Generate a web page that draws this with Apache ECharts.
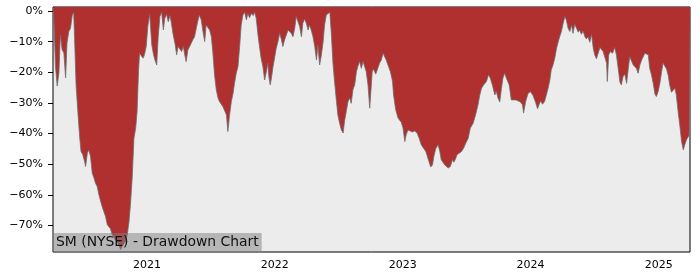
<!DOCTYPE html>
<html>
<head>
<meta charset="utf-8">
<script src="https://cdn.jsdelivr.net/npm/echarts@6/dist/echarts.min.js"></script>
<style>
html,body{margin:0;padding:0;background:#fff;}
#chart{width:700px;height:280px;}
</style>
</head>
<body>
<div id="chart"></div>
<script>
var titleText = 'SM (NYSE) - Drawdown Chart';
var yTickValues = [0, -10, -20, -30, -40, -50, -60, -70];
var xTickLabels = ['2021', '2022', '2023', '2024', '2025'];
var xRange = ['2020-04-08', '2025-03-31'];
var dates = [
'2020-04-08','2020-04-10','2020-04-15','2020-04-20','2020-04-25','2020-04-29','2020-05-04','2020-05-09','2020-05-14','2020-05-18',
'2020-05-23','2020-05-28','2020-06-02','2020-06-06','2020-06-09','2020-06-13','2020-06-18','2020-06-23','2020-06-27','2020-07-02',
'2020-07-07','2020-07-10','2020-07-15','2020-07-19','2020-07-24','2020-07-29','2020-08-03','2020-08-07','2020-08-12','2020-08-17',
'2020-08-22','2020-08-26','2020-08-31','2020-09-05','2020-09-10','2020-09-14','2020-09-19','2020-09-24','2020-09-29','2020-10-04',
'2020-10-08','2020-10-13','2020-10-18','2020-10-23','2020-10-27','2020-11-01','2020-11-06','2020-11-11','2020-11-15','2020-11-20',
'2020-11-25','2020-11-30','2020-12-04','2020-12-08','2020-12-11','2020-12-16','2020-12-21','2020-12-25','2020-12-30','2021-01-04',
'2021-01-09','2021-01-11','2021-01-15','2021-01-20','2021-01-24','2021-01-29','2021-02-02','2021-02-07','2021-02-12','2021-02-17',
'2021-02-21','2021-02-26','2021-03-03','2021-03-08','2021-03-12','2021-03-17','2021-03-22','2021-03-27','2021-03-31','2021-04-05',
'2021-04-10','2021-04-15','2021-04-19','2021-04-23','2021-04-28','2021-05-03','2021-05-08','2021-05-12','2021-05-17','2021-05-22',
'2021-05-27','2021-05-31','2021-06-05','2021-06-10','2021-06-15','2021-06-19','2021-06-24','2021-06-29','2021-07-04','2021-07-08',
'2021-07-13','2021-07-18','2021-07-23','2021-07-27','2021-08-01','2021-08-06','2021-08-11','2021-08-16','2021-08-20','2021-08-25',
'2021-08-30','2021-09-04','2021-09-08','2021-09-13','2021-09-18','2021-09-23','2021-09-27','2021-10-02','2021-10-07','2021-10-12',
'2021-10-16','2021-10-21','2021-10-26','2021-10-31','2021-11-04','2021-11-09','2021-11-14','2021-11-19','2021-11-23','2021-11-28',
'2021-12-03','2021-12-08','2021-12-12','2021-12-15','2021-12-19','2021-12-23','2021-12-27','2022-01-01','2022-01-05','2022-01-10',
'2022-01-15','2022-01-20','2022-01-24','2022-01-29','2022-02-03','2022-02-08','2022-02-12','2022-02-17','2022-02-22','2022-02-27',
'2022-03-03','2022-03-08','2022-03-13','2022-03-18','2022-03-22','2022-03-27','2022-04-01','2022-04-06','2022-04-10','2022-04-15',
'2022-04-20','2022-04-25','2022-04-30','2022-05-04','2022-05-09','2022-05-14','2022-05-19','2022-05-23','2022-05-28','2022-06-02',
'2022-06-07','2022-06-11','2022-06-16','2022-06-21','2022-06-26','2022-06-30','2022-07-05','2022-07-10','2022-07-15','2022-07-19',
'2022-07-24','2022-07-29','2022-08-03','2022-08-07','2022-08-12','2022-08-17','2022-08-22','2022-08-26','2022-08-31','2022-09-05',
'2022-09-10','2022-09-15','2022-09-19','2022-09-24','2022-09-29','2022-10-06','2022-10-10','2022-10-16','2022-10-22','2022-10-27',
'2022-11-01','2022-11-06','2022-11-11','2022-11-15','2022-11-20','2022-11-27','2022-12-03','2022-12-06','2022-12-12','2022-12-19',
'2022-12-28','2023-01-02','2023-01-07','2023-01-11','2023-01-16','2023-01-21','2023-01-29','2023-02-04','2023-02-11','2023-02-17',
'2023-02-23','2023-02-28','2023-03-08','2023-03-11','2023-03-17','2023-03-22','2023-03-27','2023-03-31','2023-04-05','2023-04-12',
'2023-04-17','2023-04-21','2023-04-26','2023-05-01','2023-05-06','2023-05-11','2023-05-17','2023-05-23','2023-05-27','2023-06-01',
'2023-06-05','2023-06-11','2023-06-18','2023-06-24','2023-06-30','2023-07-07','2023-07-13','2023-07-21','2023-07-28','2023-08-04',
'2023-08-09','2023-08-14','2023-08-20','2023-08-28','2023-09-03','2023-09-08','2023-09-14','2023-09-21','2023-09-25','2023-09-30',
'2023-10-05','2023-10-10','2023-10-14','2023-10-19','2023-10-24','2023-11-01','2023-11-07','2023-11-12','2023-11-20','2023-11-26',
'2023-12-03','2023-12-09','2023-12-12','2023-12-18','2023-12-25','2024-01-01','2024-01-08','2024-01-15','2024-01-21','2024-01-25',
'2024-01-30','2024-02-04','2024-02-10','2024-02-15','2024-02-20','2024-02-25','2024-02-29','2024-03-05','2024-03-10','2024-03-15',
'2024-03-20','2024-03-24','2024-03-29','2024-04-03','2024-04-08','2024-04-12','2024-04-17','2024-04-22','2024-04-27','2024-05-01',
'2024-05-06','2024-05-11','2024-05-16','2024-05-20','2024-05-25','2024-05-30','2024-06-04','2024-06-08','2024-06-13','2024-06-18',
'2024-06-23','2024-06-28','2024-07-02','2024-07-07','2024-07-12','2024-07-17','2024-07-21','2024-07-26','2024-07-31','2024-08-05',
'2024-08-07','2024-08-11','2024-08-16','2024-08-22','2024-08-28','2024-09-02','2024-09-07','2024-09-12','2024-09-16','2024-09-21',
'2024-09-26','2024-10-01','2024-10-06','2024-10-10','2024-10-15','2024-10-20','2024-10-24','2024-10-29','2024-11-03','2024-11-08',
'2024-11-13','2024-11-17','2024-11-22','2024-11-27','2024-12-02','2024-12-06','2024-12-11','2024-12-16','2024-12-21','2024-12-25',
'2024-12-30','2025-01-04','2025-01-09','2025-01-13','2025-01-18','2025-01-23','2025-01-28','2025-02-01','2025-02-06','2025-02-11',
'2025-02-16','2025-02-20','2025-02-25','2025-03-02','2025-03-07','2025-03-12','2025-03-16','2025-03-21','2025-03-28','2025-03-31'
];
var drawdown = [
0,-0.8,-18,-24.5,-20,-7.8,-12.6,-13.7,-21.8,-10.4,
-6.7,-5.6,-1.3,-0.5,-10.4,-24.5,-33,-41,-45.8,-46.9,
-49,-50.7,-46.4,-45.3,-47.4,-52.9,-54.5,-56.1,-57.2,-59.9,
-62.1,-63.7,-65.4,-67,-69.7,-70.2,-71,-73,-74,-74.6,
-75.4,-76.2,-77.8,-77.3,-76,-75.1,-73,-68.6,-63.2,-54.5,
-41.5,-38.2,-32.8,-19.8,-13.8,-14.3,-15.4,-14.3,-11.6,-4.6,
-1.1,-4.6,-11.1,-14.3,-16,-17.6,-8.9,-1.8,-0.4,-6.2,
-2.4,-1.1,-3.5,-1.5,-4,-7.8,-10.5,-14.3,-11.6,-11.1,
-13.2,-11.6,-14.3,-16.5,-12.7,-11.6,-11.1,-9.4,-8.4,-5.6,
-2.9,-1.3,-2.9,-6.7,-10,-4.6,-4,-6.2,-8.4,-13.2,
-20.8,-25.7,-28.4,-29.5,-30.1,-31.2,-30.6,-33.9,-39.3,-33.9,
-29.5,-26.8,-23.6,-20.3,-18.1,-11.1,-4.6,-1.3,-0.4,-2.9,
-0.8,-2.2,-0.8,-1.5,-0.4,-2.4,-7.8,-12.2,-15.4,-18.1,
-22.5,-19.8,-17,-21.4,-24.1,-21.4,-18.1,-14.9,-12.2,-10,
-7.3,-9.4,-11.6,-9.4,-7.8,-6.2,-5.6,-7.3,-8.4,-5.6,
-1.8,-1.3,-5.1,-8.4,-4,-2.6,-4,-6.2,-4.6,-6.2,
-8.4,-11.6,-16,-11.1,-17.6,-14.3,-10,-4.6,-1.3,-0.8,
-0.4,-6.7,-17,-23.6,-29.5,-33.9,-36.6,-38.8,-39.8,-36,
-32.8,-29.5,-28.4,-30.1,-25.7,-24.1,-19.8,-18.1,-16.5,-18.7,
-16.5,-16,-19.8,-24.1,-31.7,-19.8,-18.9,-20.6,-18.7,-17,
-16,-13.8,-14.3,-16,-17.6,-19.8,-23,-27.4,-32.2,-35,
-36.3,-38.2,-42.6,-40.4,-38.8,-38.4,-39.5,-39.1,-39.8,-41.5,
-43.6,-44.5,-45.8,-45.3,-49.1,-50.9,-50.2,-47.4,-45,-43.6,
-45.8,-48.5,-49.1,-50.2,-50.7,-51.2,-50.7,-48.5,-49.3,-48.2,
-46.9,-46.4,-45.8,-44.7,-43.1,-41.5,-38.2,-36.6,-33.9,-30.6,
-27.4,-25.2,-24.1,-23,-20.8,-21.9,-24.1,-27.4,-26.1,-28.4,
-29.7,-25.2,-21.9,-20.3,-21.9,-24.1,-29,-29.5,-29,-29.3,
-29.7,-30.6,-33.3,-29.5,-26.8,-26.3,-27.6,-29.7,-31.9,-30.6,
-29.3,-30.4,-29.5,-27.4,-25.2,-22.5,-19.2,-17.6,-15.4,-12.2,
-10,-8.4,-6.7,-4,-1.8,-2.9,-5.6,-6.7,-4.6,-7.3,
-4.3,-5.6,-6.9,-6.2,-7.6,-6.5,-8.4,-9.1,-8.4,-10.2,
-7.6,-12.2,-14.3,-15.6,-16,-11.9,-11.6,-13.2,-13.2,-17,
-23,-14.3,-13.2,-13.8,-11.9,-14.3,-18.7,-23.2,-24.1,-21.4,
-20.6,-23.6,-18.7,-14.9,-15.4,-17.6,-18.1,-18.7,-20.3,-17.6,
-16,-15.4,-13.8,-13.8,-14.3,-18.7,-20.8,-23.6,-27.1,-27.9,
-26.3,-23.6,-19.8,-17,-16.5,-18.9,-21.1,-24.1,-26.5,-26.5,
-25.2,-27.4,-32.8,-37.4,-42.6,-45.3,-43.6,-42,-40.6,-40.5
];

function ts(s) { var p = s.split('-'); return Date.UTC(+p[0], +p[1] - 1, +p[2]); }
var seriesData = dates.map(function (d, i) { return [ts(d), drawdown[i]]; });
var xTickValues = xTickLabels.map(function (y) { return ts(y + '-01-01'); });

var chart = echarts.init(document.getElementById('chart'), null, {renderer: 'canvas'});
var font = 'DejaVu Sans';
chart.setOption({
  animation: false,
  backgroundColor: '#ffffff',
  title: {
    text: titleText,
    left: 53,
    top: 233,
    padding: [2, 3, 2, 3],
    backgroundColor: 'rgba(128,128,128,0.5)',
    textStyle: {fontFamily: font, fontSize: 13.9, fontWeight: 'normal', color: '#111', lineHeight: 15}
  },
  grid: {
    left: 53, right: 10, top: 7, bottom: 28,
    show: true, backgroundColor: '#ececec', borderColor: '#000', borderWidth: 1
  },
  xAxis: {
    type: 'value',
    min: ts(xRange[0]),
    max: ts(xRange[1]),
    axisLine: {show: false},
    splitLine: {show: false},
    axisTick: {show: true, length: 5, inside: false, lineStyle: {color: '#000'}, customValues: xTickValues},
    axisLabel: {
      customValues: xTickValues,
      margin: 8,
      fontFamily: font, fontSize: 11, color: '#000',
      formatter: function (v) { return String(new Date(v).getUTCFullYear()); }
    }
  },
  yAxis: {
    type: 'value',
    min: -78.6,
    max: 1.3,
    axisLine: {show: false},
    splitLine: {show: false},
    axisTick: {show: true, length: 5, inside: false, lineStyle: {color: '#000'}, customValues: yTickValues},
    axisLabel: {
      customValues: yTickValues,
      margin: 10,
      fontFamily: font, fontSize: 11, color: '#000',
      formatter: function (v) { return (v < 0 ? '\u2212' + Math.abs(v) : String(v)) + '%'; }
    }
  },
  series: [{
    type: 'line',
    data: seriesData,
    showSymbol: false,
    symbol: 'none',
    lineStyle: {color: 'rgba(110,110,110,0.8)', width: 1},
    areaStyle: {color: '#b02f2f', opacity: 1, origin: 'end'},
    z: 2
  }]
});
</script>
</body>
</html>
